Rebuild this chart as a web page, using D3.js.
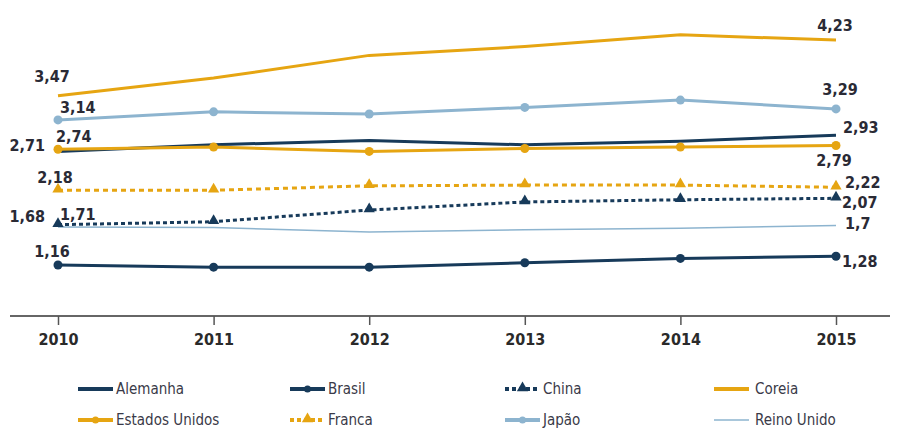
<!DOCTYPE html>
<html>
<head>
<meta charset="utf-8">
<script src="https://cdn.jsdelivr.net/npm/d3@7"></script>
<style>
  body { margin: 0; background: #fff; }
  svg text { font-family: "DejaVu Sans Condensed", "DejaVu Sans", sans-serif; font-stretch: condensed; }
</style>
</head>
<body>
<svg id="chart" width="905" height="430"></svg>
<script>
// data
var years = [2010, 2011, 2012, 2013, 2014, 2015];
var alemanha = [2.71, 2.80, 2.86, 2.80, 2.85, 2.93];
var brasil = [1.16, 1.13, 1.13, 1.19, 1.25, 1.28];
var china = [1.71, 1.75, 1.91, 2.02, 2.05, 2.07];
var coreia = [3.47, 3.71, 4.02, 4.14, 4.30, 4.23];
var estadosUnidos = [2.74, 2.77, 2.71, 2.75, 2.77, 2.79];
var franca = [2.18, 2.18, 2.24, 2.25, 2.25, 2.22];
var japao = [3.14, 3.25, 3.22, 3.31, 3.41, 3.29];
var reinoUnido = [1.68, 1.67, 1.61, 1.64, 1.66, 1.70];

var navy = "#173a5a", gold = "#e6a512", blue = "#8db4cf";

// styles + label placement (first / last point) for each series
var series = [
    {name: "Alemanha", values: alemanha, color: navy, width: 3, dash: null, marker: null,
        first: {dx: -13, dy: -6, a: "end"}, last: {dx: 7, dy: -8, a: "start"}},
    {name: "Brasil", values: brasil, color: navy, width: 3, dash: null, marker: "circle",
        first: {dx: -6, dy: -13, a: "middle"}, last: {dx: 6, dy: 5, a: "start"}},
    {name: "China", values: china, color: navy, width: 3, dash: "4,3", marker: "triangle",
        first: {dx: 2, dy: -10, a: "start"}, last: {dx: 6, dy: 4, a: "start"}},
    {name: "Coreia", values: coreia, color: gold, width: 3, dash: null, marker: null,
        first: {dx: -6, dy: -19, a: "middle"}, last: {dx: -1, dy: -15, a: "middle"}},
    {name: "Estados Unidos", values: estadosUnidos, color: gold, width: 3, dash: null, marker: "circle",
        first: {dx: -2, dy: -13, a: "start"}, last: {dx: -2, dy: 15, a: "middle"}},
    {name: "Franca", values: franca, color: gold, width: 3, dash: "5,4", marker: "triangle",
        first: {dx: -3, dy: -13, a: "middle"}, last: {dx: 9, dy: -5, a: "start"}},
    {name: "Japão", values: japao, color: blue, width: 3, dash: null, marker: "circle",
        first: {dx: 2, dy: -12, a: "start"}, last: {dx: 4, dy: -19, a: "middle"}},
    {name: "Reino Unido", values: reinoUnido, color: blue, width: 1.5, dash: null, marker: null,
        first: {dx: -13, dy: -10, a: "end"}, last: {dx: 9, dy: -2, a: "start"}}
];

var svg = d3.select("#chart");

var x = d3.scalePoint().domain(years).range([58, 836]);
var y = d3.scaleLinear().domain([0, 4.23]).range([350, 40]);

// x axis
svg.append("line")
    .attr("x1", 10).attr("x2", 890)
    .attr("y1", 316).attr("y2", 316)
    .attr("stroke", "#666").attr("stroke-width", 2);

var xAxis = svg.append("g")
    .attr("transform", "translate(0,316)")
    .call(d3.axisBottom(x).tickSize(9).tickPadding(9));
xAxis.select(".domain").remove();
xAxis.selectAll(".tick line").attr("stroke", "#555").attr("stroke-width", 1.5);
xAxis.selectAll(".tick text")
    .attr("fill", "#2a2a2a")
    .style("font-size", "16px")
    .style("font-weight", "bold");

var line = d3.line()
    .x(function (d, i) { return x(years[i]); })
    .y(function (d) { return y(d); });

var triangle = d3.symbol().type(d3.symbolTriangle).size(55);

// draw thin / back series first
var order = [7, 3, 6, 0, 4, 5, 2, 1];
order.forEach(function (k) {
    var s = series[k];
    var g = svg.append("g");
    g.append("path")
        .attr("d", line(s.values))
        .attr("fill", "none")
        .attr("stroke", s.color)
        .attr("stroke-width", s.width)
        .attr("stroke-dasharray", s.dash);

    if (s.marker === "circle") {
        g.selectAll("circle").data(s.values).enter().append("circle")
            .attr("cx", function (d, i) { return x(years[i]); })
            .attr("cy", function (d) { return y(d); })
            .attr("r", 4.5)
            .attr("fill", s.color);
    } else if (s.marker === "triangle") {
        g.selectAll(".tri").data(s.values).enter().append("path")
            .attr("class", "tri")
            .attr("d", triangle)
            .attr("transform", function (d, i) {
                return "translate(" + x(years[i]) + "," + (y(d) - 1) + ")";
            })
            .attr("fill", s.color);
    }
});

// value labels at the ends
function fmt(v) { return String(v).replace(".", ","); }

series.forEach(function (s) {
    var n = s.values.length - 1;
    [[0, s.first], [n, s.last]].forEach(function (p) {
        var i = p[0], pos = p[1];
        svg.append("text")
            .attr("x", x(years[i]) + pos.dx)
            .attr("y", y(s.values[i]) + pos.dy)
            .attr("text-anchor", pos.a)
            .attr("dominant-baseline", "central")
            .attr("fill", "#2a2a35")
            .style("font-size", "16px")
            .style("font-weight", "bold")
            .text(fmt(s.values[i]));
    });
});

// legend: 2 rows x 4 columns
var legX = [78, 290, 505, 714];
var legY = [389, 420];
series.forEach(function (s, i) {
    var lx = legX[i % 4], ly = legY[Math.floor(i / 4)];
    var g = svg.append("g").attr("transform", "translate(" + lx + "," + ly + ")");
    g.append("line")
        .attr("x1", 0).attr("x2", 35)
        .attr("stroke", s.color)
        .attr("stroke-width", s.width === 3 ? 4 : 1.3)
        .attr("stroke-dasharray", s.dash ? "4,3" : null);
    if (s.marker === "circle") {
        g.append("circle").attr("cx", 17.5).attr("r", 3.5).attr("fill", s.color);
    } else if (s.marker === "triangle") {
        g.append("path").attr("d", triangle).attr("transform", "translate(17.5,-1)").attr("fill", s.color);
    }
    g.append("text")
        .attr("x", s.name === "Coreia" || s.name === "Reino Unido" ? 41 : 38)
        .attr("dominant-baseline", "central")
        .attr("fill", "#3a3a48")
        .style("font-size", "15px")
        .text(s.name);
});
</script>
</body>
</html>
